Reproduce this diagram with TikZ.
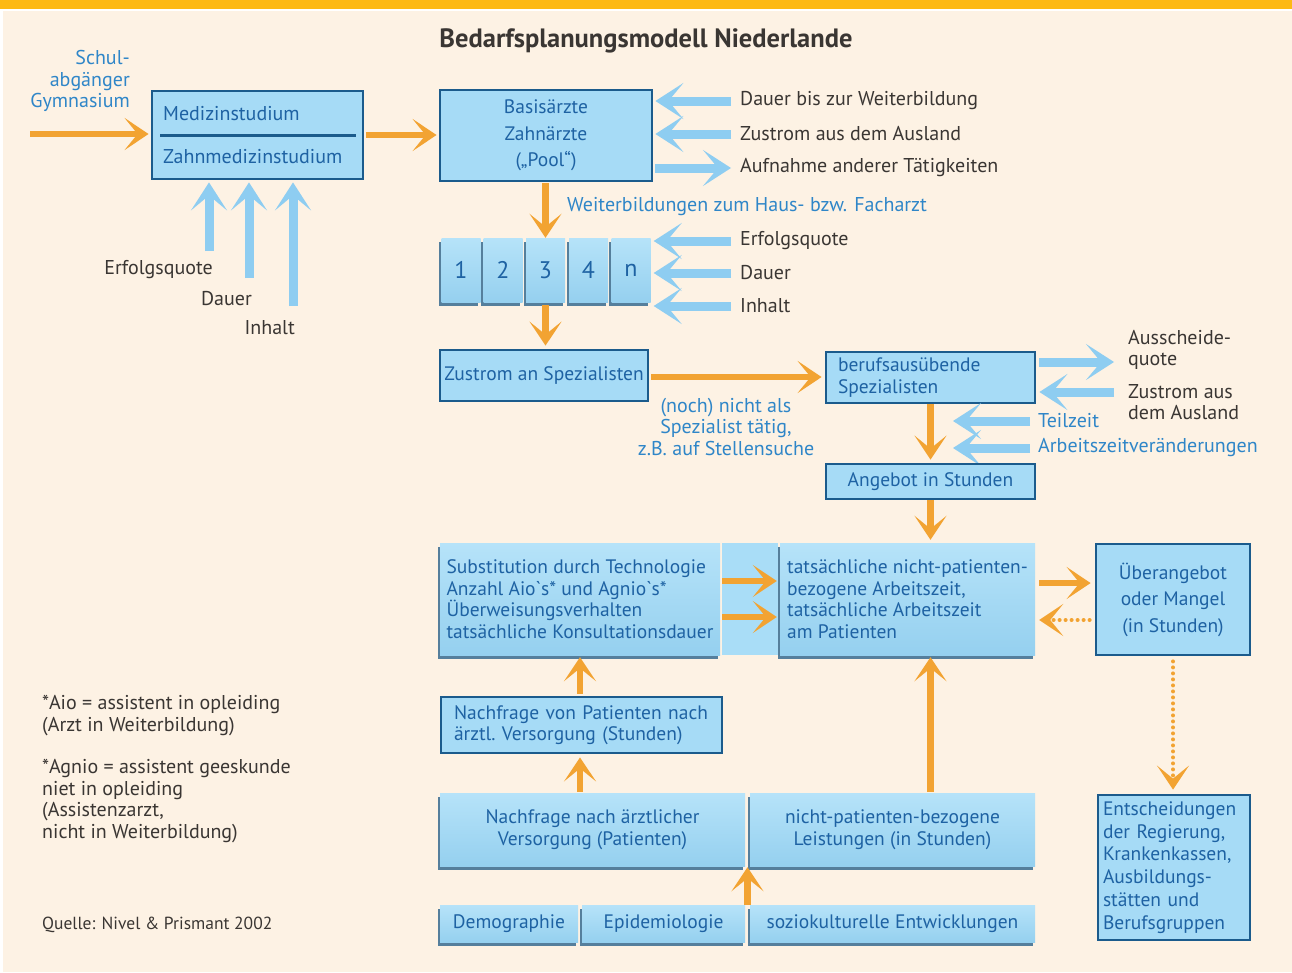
\documentclass[tikz,border=0pt]{standalone}
\usepackage{fontspec}
\setmainfont{PT Sans}[Ligatures=TeXOff]
\usetikzlibrary{arrows.meta,shadows,calc}
\definecolor{bg}{HTML}{FDF2E4}
\definecolor{obar}{HTML}{FDB913}
\definecolor{boxfill}{HTML}{A6DBF6}
\definecolor{boxtop}{HTML}{B6E3F9}
\definecolor{boxbot}{HTML}{95D0EF}
\definecolor{midfill}{HTML}{A9DDF7}
\definecolor{bordc}{HTML}{1B5B8C}
\definecolor{btext}{HTML}{1E62A3}
\definecolor{ltext}{HTML}{2F86C8}
\definecolor{dtext}{HTML}{3A3633}
\definecolor{orng}{HTML}{F2A332}
\definecolor{lblue}{HTML}{8ECDF1}
\definecolor{shad}{HTML}{557F9C}
\newcommand\myfs{\fontsize{20}{21.5}\selectfont}
\newcommand\mybx{\fontsize{19.5}{21.5}\selectfont}
\newcommand\myfsw{\fontsize{19.5}{26.5}\selectfont}
\newcommand\myfse{\fontsize{19.5}{22.8}\selectfont}
\tikzset{
  bbox/.style={draw=bordc, line width=2.8pt, fill=boxfill, text=btext, font=\mybx, inner sep=0pt},
  sbox/.style={draw=none, top color=boxtop, bottom color=boxbot, text=btext, font=\mybx, inner sep=0pt,
     drop shadow={shadow xshift=-2.5pt, shadow yshift=-3.5pt, fill=shad, opacity=1}},
  lbl/.style={text=dtext, font=\myfs, anchor=west, inner sep=2pt},
  ltxt/.style={text=ltext, font=\myfs, inner sep=2pt},
  oarr/.style={draw=orng, line width=6.5pt, -{Stealth[length=24pt,width=32pt,inset=13pt]}},
  odot/.style={draw=orng, line width=4pt, line cap=round, dash pattern=on 0pt off 6pt,
     -{Stealth[length=24pt,width=32pt,inset=13pt]}},
  barr/.style={draw=lblue, line width=9pt, -{Stealth[length=28pt,width=36pt,inset=15pt]}},
}
\begin{document}
\begin{tikzpicture}[x=1pt,y=-1pt]
\useasboundingbox (0,0) rectangle (1292,972);
\fill[white] (0,0) rectangle (1292,972);
\fill[bg] (3,11) rectangle (1292,972);
\fill[obar] (0,0) rectangle (1292,8.5);

\node[text=dtext, font=\bfseries\fontsize{26.5}{30}\selectfont] (title) at (646,41) {Bedarfsplanungsmodell Niederlande};

% Medizinstudium
\node[bbox, minimum width=211pt, minimum height=88pt] (med) at (257.5,135) {};
\node[text=btext, font=\myfs, anchor=west, inner sep=2pt] (medA) at (161,114) {Medizinstudium};
\node[text=btext, font=\myfs, anchor=west, inner sep=2pt] (medB) at (161,157) {Zahnmedizinstudium};
\draw[bordc, line width=3pt] (160,135) -- (356,135);

\node[ltxt, align=right, anchor=east] (schul) at (132,81) {Schul-\\abgänger\\Gymnasium};
\coordinate (s0) at (30,134);
\draw[oarr, shorten >=2pt] (s0) -- (med.west |- s0);

% Basisaerzte
\node[bbox, minimum width=212pt, minimum height=91pt, align=center, font=\myfsw] (basis) at (546,135.5) {Basisärzte\\Zahnärzte\\(„Pool“)};
\draw[oarr, shorten >=2pt, shorten <=2pt] (med.east) -- (basis.west |- med.east);

\node[lbl] (bl1) at (738,101) {Dauer bis zur Weiterbildung};
\node[lbl] (bl2) at (738,134) {Zustrom aus dem Ausland};
\node[lbl] (bl3) at (738,168) {Aufnahme anderer Tätigkeiten};
\draw[barr, shorten >=2pt] (bl1.west -| 731,0) -- (basis.east |- bl1.west);
\draw[barr, shorten >=2pt] (bl2.west -| 731,0) -- (basis.east |- bl2.west);
\draw[barr, shorten <=2pt] (basis.east |- bl3.west) -- (bl3.west -| 731,0);

% left small arrows
\node[lbl, anchor=east] (e1) at (215,270) {Erfolgsquote};
\node[lbl, anchor=east] (e2) at (254,299) {Dauer};
\node[lbl, anchor=east] (e3) at (297,328) {Inhalt};
\coordinate (u1) at (209,251);
\coordinate (u2) at (249,278);
\coordinate (u3) at (293,306);
\draw[barr, shorten >=2pt] (u1) -- (u1 |- med.south);
\draw[barr, shorten >=2pt] (u2) -- (u2 |- med.south);
\draw[barr, shorten >=2pt] (u3) -- (u3 |- med.south);

% cells
\tikzset{cell/.style={sbox, minimum width=39pt, minimum height=64pt, font=\fontsize{24}{26}\selectfont}}
\node[cell] (c1) at (461,270) {1};
\node[cell] (c2) at (503,270) {2};
\node[cell] (c3) at (545.5,270) {3};
\node[cell] (c4) at (588.5,270) {4};
\node[cell] (c5) at (631,270) {n};
\draw[oarr, shorten <=1pt] (basis.south -| c3.north) -- (c3.north);
\node[ltxt, anchor=west] (weit) at (565,207) {Weiterbildungen zum Haus- bzw. Facharzt};

\node[lbl] (cl1) at (738,241) {Erfolgsquote};
\node[lbl] (cl2) at (738,273) {Dauer};
\node[lbl] (cl3) at (738,306) {Inhalt};
\draw[barr, shorten >=3pt] (cl1.west -| 731,0) -- (c5.east |- cl1.west);
\draw[barr, shorten >=3pt] (cl2.west -| 731,0) -- (c5.east |- cl2.west);
\draw[barr, shorten >=3pt] (cl3.west -| 731,0) -- (c5.east |- cl3.west);

% Zustrom an Spezialisten
\node[bbox, minimum width=208pt, minimum height=51pt] (zust) at (544,375.5) {Zustrom an Spezialisten};
\draw[oarr, shorten <=3pt, shorten >=3pt] (c3.south) -- (c3.south |- zust.north);

% berufsausuebende
\node[bbox, minimum width=209pt, minimum height=51pt, text width=185pt, align=left] (beruf) at (930.5,377.5) {berufsausübende\\Spezialisten};
\draw[oarr, shorten <=2pt, shorten >=3pt] (zust.east |- 0,377) -- (beruf.west |- 0,377);
\node[ltxt, align=center] (noch) at (726,426.5) {(noch) nicht als\\Spezialist tätig,\\z.B.\ auf Stellensuche};

\node[lbl, align=left] (aus) at (1126,350) {Ausscheide-\\quote};
\node[lbl, align=left] (zaus) at (1126,402) {Zustrom aus\\dem Ausland};
\coordinate (a1) at (1114,362);
\coordinate (a2) at (1114,392);
\draw[barr, shorten <=3pt] (beruf.east |- a1) -- (a1);
\draw[barr, shorten >=3pt] (a2) -- (beruf.east |- a2);

\node[ltxt, anchor=west] (teil) at (1036,421) {Teilzeit};
\node[ltxt, anchor=west] (azv) at (1036,448) {Arbeitszeitveränderungen};
\coordinate (t1) at (953,421);
\coordinate (t2) at (953,448);
\draw[barr] ([xshift=-6pt]teil.west) -- (t1);
\draw[barr] ([xshift=-6pt]azv.west) -- (t2);

% Angebot
\node[bbox, minimum width=209pt, minimum height=35pt] (ang) at (930.5,481.5) {Angebot in Stunden};
\draw[oarr, shorten >=3pt] (beruf.south) -- (ang.north);

% big block
\node[sbox, minimum width=280pt, minimum height=112pt, align=left] (sub) at (580,599) {Substitution durch Technologie\\Anzahl Aio`s* und Agnio`s*\\Überweisungsverhalten\\tatsächliche Konsultationsdauer};
\node[fill=midfill, minimum width=56pt, minimum height=112pt, inner sep=0pt] (mid) at (750,599) {};
\node[sbox, minimum width=255pt, minimum height=112pt, align=left] (tat) at (907.5,599) {tatsächliche nicht-patienten-\\bezogene Arbeitszeit,\\tatsächliche Arbeitszeit\\am Patienten};
\draw[oarr, shorten >=3pt] (ang.south) -- (ang.south |- tat.north);
\draw[oarr, shorten <=2pt, shorten >=3pt] (sub.east |- 0,581) -- (tat.west |- 0,581);
\draw[oarr, shorten <=2pt, shorten >=3pt] (sub.east |- 0,617) -- (tat.west |- 0,617);

% Ueberangebot
\node[bbox, minimum width=154pt, minimum height=111pt, align=center, font=\myfsw] (ueber) at (1173,599.5) {Überangebot\\oder Mangel\\(in Stunden)};
\draw[oarr, shorten <=4pt, shorten >=4pt] (tat.east |- 0,583) -- (ueber.west |- 0,583);
\draw[odot, shorten <=5pt, shorten >=4pt] (ueber.west |- 0,620) -- (tat.east |- 0,620);

% Entscheidungen
\node[bbox, minimum width=152pt, minimum height=145pt, text width=142pt, align=left, font=\myfse] (ent) at (1174,867.5) {Entscheidungen\\der Regierung,\\Krankenkassen,\\Ausbildungs-\\stätten und\\Berufsgruppen};
\draw[odot, shorten <=5pt, shorten >=4pt] (ueber.south) -- (ueber.south |- ent.north);

% Nachfrage von Patienten
\node[bbox, minimum width=281pt, minimum height=56pt, text width=255pt, align=left] (nachf) at (581.5,725) {Nachfrage von Patienten nach\\ärztl.\ Versorgung (Stunden)};
\draw[oarr, shorten <=2pt, shorten >=2pt] (sub.south |- nachf.north) -- (sub.south);

% bottom rows
\node[sbox, minimum width=305pt, minimum height=73pt, align=center] (nae) at (592.5,829.5) {Nachfrage nach ärztlicher\\Versorgung (Patienten)};
\node[sbox, minimum width=285pt, minimum height=73pt, align=center] (npb) at (892.5,829.5) {nicht-patienten-bezogene\\Leistungen (in Stunden)};
\draw[oarr, shorten <=1pt, shorten >=3pt] (sub.south |- nae.north) -- (sub.south |- nachf.south);
\draw[oarr, shorten <=1pt, shorten >=2pt] (ang.south |- npb.north) -- (ang.south |- tat.south);

\node[sbox, minimum width=138pt, minimum height=37pt] (demo) at (509,923.5) {Demographie};
\node[sbox, minimum width=163pt, minimum height=37pt] (epi) at (663.5,923.5) {Epidemiologie};
\node[sbox, minimum width=285pt, minimum height=37pt] (soz) at (892.5,923.5) {soziokulturelle Entwicklungen};
\coordinate (m3) at ($(epi.north east)!.5!(soz.north west)$);
\draw[oarr, shorten >=1pt] (m3) -- (m3 |- nae.south);

% footnotes
\node[lbl, align=left] (fn1) at (40,715.5) {*Aio = assistent in opleiding\\(Arzt in Weiterbildung)};
\node[lbl, align=left] (fn2) at (40,801) {*Agnio = assistent geeskunde\\niet in opleiding\\(Assistenzarzt,\\nicht in Weiterbildung)};
\node[lbl, font=\fontsize{17.5}{19}\selectfont] (src) at (40,925) {Quelle: Nivel \& Prismant 2002};
\end{tikzpicture}
\end{document}
